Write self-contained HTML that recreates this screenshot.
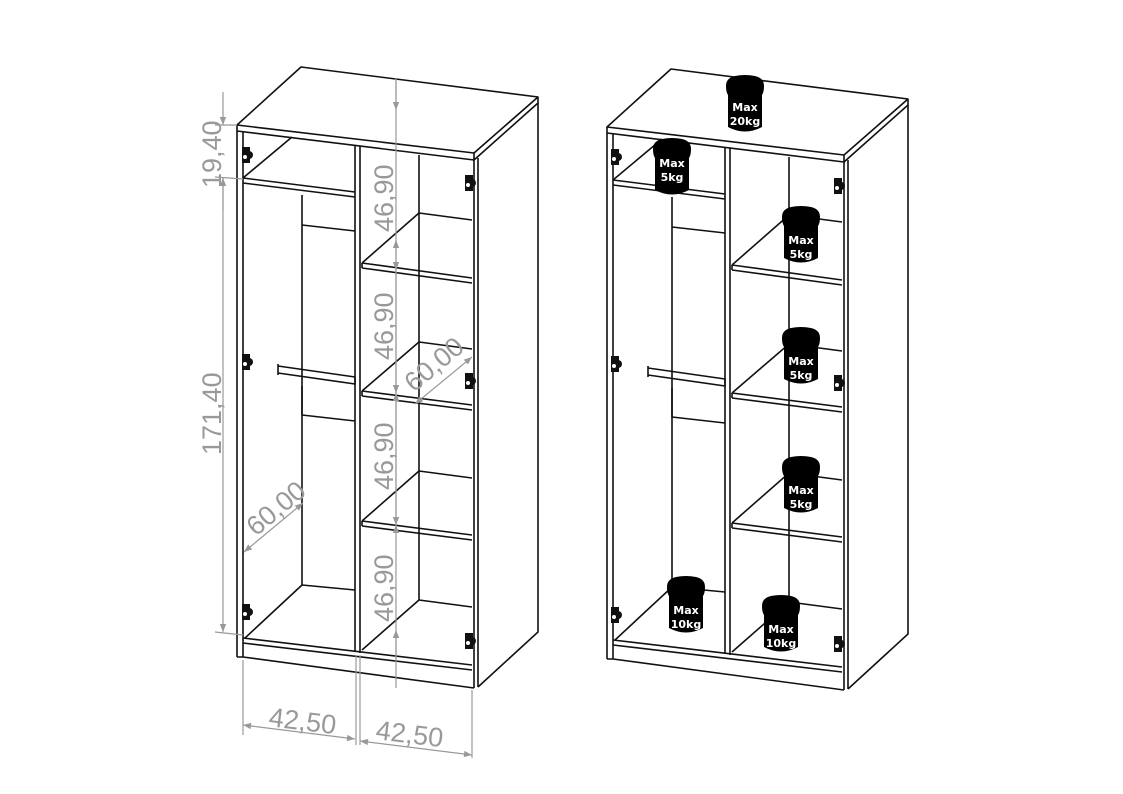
<!DOCTYPE html>
<html><head><meta charset="utf-8"><style>
html,body{margin:0;padding:0;background:#fff;}
svg{display:block;}
.l{stroke:#111;stroke-width:1.6;fill:none;stroke-linejoin:round;}
.d{stroke:#999;stroke-width:1.2;fill:none;}
.t{fill:#999;font-family:"Liberation Sans",sans-serif;font-size:27px;}
.w{fill:#fff;font-family:"DejaVu Sans","Liberation Sans",sans-serif;font-size:11px;font-weight:bold;text-anchor:middle;}
</style></head><body>
<svg width="1123" height="794" viewBox="0 0 1123 794" xmlns="http://www.w3.org/2000/svg">
<defs>
<marker id="a" viewBox="0 0 10 10" refX="10" refY="5" markerWidth="18" markerHeight="8" orient="auto-start-reverse" markerUnits="userSpaceOnUse">
<path d="M0,1 L10,5 L0,9 Z" fill="#999"/></marker>
<g id="cab">
<path class="l" d="M237,125 L301,67 L538,97 L538,103 L474,160 L474,153 L237,125 Z"/>
<path class="l" d="M237,125 L237,131 L474,160 M474,153 L538,97"/>
<path class="l" d="M474,160 L474,688 M478,158 L478,687 M538,103 L538,632 L478,687"/>
<path class="l" d="M237,131 L237,657 M243,132 L243,657 L474,688 M237,657 L243,657"/>
<path class="l" d="M243,638 L472,665 M243,643 L472,670"/>
<path class="l" d="M355,145 L355,652 M360,146 L360,653"/>
<path class="l" d="M243,178 L355,192 M243,183 L355,197 M243,178 L292,137"/>
<path class="l" d="M302,195 L302,585 M302,225 L355,231 M302,585 L355,590 M245,638 L302,585"/>
<path class="l" d="M278,366 L355,377 L355,384 L278,373 Z M278,364 L278,375"/>
<path class="l" d="M302,386 L302,415 L355,421"/>
<path class="l" d="M419,155 L419,600"/>
<path class="l" d="M362,263 L419,213 L472,220 M362,263 L472,278 M362,268 L472,283 M362,263 L362,268"/>
<path class="l" d="M362,391 L419,342 L472,349 M362,391 L472,405 M362,396 L472,410 M362,391 L362,396"/>
<path class="l" d="M362,521 L419,471 L472,478 M362,521 L472,535 M362,526 L472,540 M362,521 L362,526"/>
<path class="l" d="M362,650 L419,600 L472,607"/>
</g>
<g id="hl"><rect x="-4" y="-8" width="8" height="16" fill="#111"/><circle cx="3" cy="0" r="4" fill="#111"/><circle cx="-1" cy="2" r="2" fill="#fff"/></g>
<g id="wt"><path d="M-10,0 Q0,-2 10,0 Q19,2 19,10 Q19,16 17,19 L17,51 Q0,60 -17,51 L-17,19 Q-19,16 -19,10 Q-19,2 -10,0 Z" fill="#000"/></g>
</defs>

<use href="#cab"/>
<use href="#cab" transform="translate(370,2)"/>

<use href="#hl" x="246" y="155"/><use href="#hl" x="246" y="362"/><use href="#hl" x="246" y="612"/>
<use href="#hl" x="469" y="183"/><use href="#hl" x="469" y="381"/><use href="#hl" x="469" y="641"/>
<use href="#hl" x="615" y="157"/><use href="#hl" x="615" y="364"/><use href="#hl" x="615" y="615"/>
<use href="#hl" x="838" y="186"/><use href="#hl" x="838" y="383"/><use href="#hl" x="838" y="644"/>

<path class="d" d="M223,92 L223,125" marker-end="url(#a)"/>
<path class="d" d="M223,210 L223,178" marker-end="url(#a)"/>
<path class="d" d="M223,178 L223,632" marker-end="url(#a)"/>
<path class="d" d="M215,125 L237,125 M215,177 L243,179 M215,632 L243,635"/>
<text class="t" transform="translate(221,188) rotate(-90)">19,40</text>
<text class="t" transform="translate(221,455) rotate(-90)">171,40</text>

<path class="d" d="M396,78 L396,688"/>
<path class="d" d="M396,80 L396,110" marker-end="url(#a)"/>
<path class="d" d="M396,240 L396,270" marker-start="url(#a)" marker-end="url(#a)"/>
<path class="d" d="M396,270 L396,393" marker-end="url(#a)"/>
<path class="d" d="M396,393 L396,398" marker-start="url(#a)"/>
<path class="d" d="M396,398 L396,525" marker-end="url(#a)"/>
<path class="d" d="M396,525 L396,530" marker-start="url(#a)"/>
<path class="d" d="M396,660 L396,630" marker-end="url(#a)"/>
<text class="t" transform="translate(393,232) rotate(-90)">46,90</text>
<text class="t" transform="translate(393,360) rotate(-90)">46,90</text>
<text class="t" transform="translate(393,490) rotate(-90)">46,90</text>
<text class="t" transform="translate(393,622) rotate(-90)">46,90</text>

<path class="d" d="M244,552 L303,503" marker-start="url(#a)" marker-end="url(#a)"/>
<text class="t" transform="translate(256,537) rotate(-40)">60,00</text>
<path class="d" d="M415,404 L472,357" marker-start="url(#a)" marker-end="url(#a)"/>
<text class="t" transform="translate(414,393) rotate(-40)">60,00</text>

<path class="d" d="M243,660 L243,735 M356,655 L356,745 M360,655 L360,745 M472,690 L472,758"/>
<path class="d" d="M243,725 L355,739" marker-start="url(#a)" marker-end="url(#a)"/>
<path class="d" d="M360,741 L472,755" marker-start="url(#a)" marker-end="url(#a)"/>
<text class="t" x="268" y="726" transform="rotate(7 268 726)">42,50</text>
<text class="t" x="375" y="739" transform="rotate(7 375 739)">42,50</text>

<use href="#wt" x="745" y="76"/><text class="w" x="745" y="111">Max</text><text class="w" x="745" y="125">20kg</text>
<use href="#wt" x="672" y="139"/><text class="w" x="672" y="167">Max</text><text class="w" x="672" y="181">5kg</text>
<use href="#wt" x="801" y="207"/><text class="w" x="801" y="244">Max</text><text class="w" x="801" y="258">5kg</text>
<use href="#wt" x="801" y="328"/><text class="w" x="801" y="365">Max</text><text class="w" x="801" y="379">5kg</text>
<use href="#wt" x="801" y="457"/><text class="w" x="801" y="494">Max</text><text class="w" x="801" y="508">5kg</text>
<use href="#wt" x="686" y="577"/><text class="w" x="686" y="614">Max</text><text class="w" x="686" y="628">10kg</text>
<use href="#wt" x="781" y="596"/><text class="w" x="781" y="633">Max</text><text class="w" x="781" y="647">10kg</text>
</svg>
</body></html>
